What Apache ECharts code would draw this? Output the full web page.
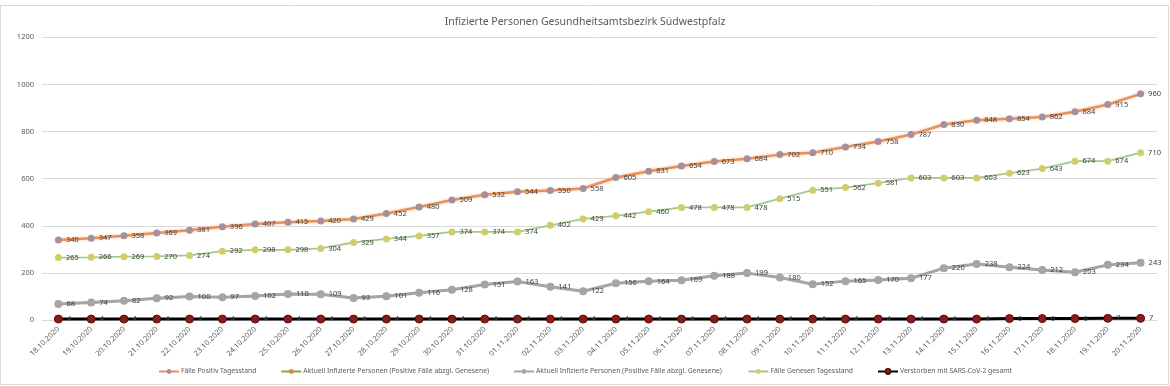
<!DOCTYPE html>
<html><head><meta charset="utf-8">
<script src="https://cdn.jsdelivr.net/npm/echarts@6/dist/echarts.min.js"></script>
<style>html,body{margin:0;padding:0;background:#fff}#c{width:1170px;height:386px}</style>
</head><body><div id="c"></div>
<script>
const categories = ['18.10.2020','19.10.2020','20.10.2020','21.10.2020','22.10.2020','23.10.2020','24.10.2020','25.10.2020','26.10.2020','27.10.2020','28.10.2020','29.10.2020','30.10.2020','31.10.2020','01.11.2020','02.11.2020','03.11.2020','04.11.2020','05.11.2020','06.11.2020','07.11.2020','08.11.2020','09.11.2020','10.11.2020','11.11.2020','12.11.2020','13.11.2020','14.11.2020','15.11.2020','16.11.2020','17.11.2020','18.11.2020','19.11.2020','20.11.2020'];
const positiv = [340,347,358,369,381,396,407,415,420,429,452,480,509,532,544,550,558,605,631,654,673,684,702,710,734,758,787,830,848,854,862,884,915,960];
const aktuell = [68,74,82,92,100,97,102,110,109,93,101,116,128,151,163,141,122,156,164,169,188,199,180,152,165,170,177,220,238,224,212,203,234,243];
const genesen = [265,266,269,270,274,292,298,298,304,329,344,357,374,374,374,402,429,442,460,478,478,478,515,551,562,581,603,603,603,623,643,674,674,710];
const verstorben = [4,4,4,4,4,4,4,4,4,4,4,4,4,4,4,4,4,4,4,4,4,4,4,4,4,4,4,4,4,6,6,6,7,7];
const yTicks = {min:0, max:1200, interval:200};
const titleText = 'Infizierte Personen Gesundheitsamtsbezirk Südwestpfalz';
const names = ['Fälle Positiv Tagesstand','Aktuell Infizierte Personen (Positive Fälle abzgl. Genesene)','Aktuell Infizierte Personen (Positive Fälle abzgl. Genesene) ','Fälle Genesen Tagesstand','Verstorben mit SARS-CoV-2 gesamt'];

const FONT = 'Noto Sans';
const lbl = {show:true, position:'right', distance:4, fontSize:7.5, color:'#404040', fontFamily:FONT};
const chart = echarts.init(document.getElementById('c'), null, {renderer:'canvas'});
chart.setOption({
  animation:false,
  backgroundColor:'#fff',
  title:{text:titleText, left:'center', top:12, textStyle:{fontSize:10.5, fontWeight:'normal', color:'#595959', fontFamily:FONT}},
  graphic:[{type:'rect', shape:{x:0.5,y:5.5,width:1168,height:379}, style:{fill:'none', stroke:'#D9D9D9', lineWidth:1}, silent:true, z:-1}],
  grid:{left:42, right:13, top:37.3, bottom:66},
  legend:{bottom:6, left:'center', itemWidth:20, itemHeight:6, itemGap:24, textStyle:{fontSize:6.8, color:'#595959', fontFamily:FONT, padding:[0,0,0,-3]}, data:names},
  xAxis:{type:'category', data:categories, boundaryGap:true,
    axisLine:{show:true, lineStyle:{color:'#D9D9D9'}}, axisTick:{show:false},
    axisLabel:{rotate:45, fontSize:7.5, color:'#595959', margin:8, fontFamily:FONT, interval:0}},
  yAxis:{type:'value', min:yTicks.min, max:yTicks.max, interval:yTicks.interval,
    axisLine:{show:false}, axisTick:{show:false},
    axisLabel:{fontSize:7.5, color:'#595959', margin:8, fontFamily:FONT, formatter:function(v){return String(v);}},
    splitLine:{lineStyle:{color:'#D9D9D9', width:1}}},
  series:[
    {name:names[0], type:'line', data:positiv, symbol:'circle', symbolSize:7, z:5,
      lineStyle:{color:'#E8915A', width:2.5, shadowColor:'rgba(237,125,49,0.45)', shadowBlur:3},
      itemStyle:{color:'#A3909E'}, label:lbl},
    {name:names[1], type:'line', data:aktuell, symbol:'circle', symbolSize:7, z:2,
      lineStyle:{color:'#70AD47', width:2}, itemStyle:{color:'#ED7D31'}, label:{show:false}},
    {name:names[2], type:'line', data:aktuell, symbol:'circle', symbolSize:8, z:3,
      lineStyle:{color:'#A5A5A5', width:3}, itemStyle:{color:'#A5A5A5'}, label:lbl},
    {name:names[3], type:'line', data:genesen, symbol:'circle', symbolSize:7, z:4,
      lineStyle:{color:'#A4C98E', width:1.8}, itemStyle:{color:'#D2CD6B'}, label:lbl},
    {name:names[4], type:'line', data:verstorben, symbol:'circle', symbolSize:8, z:6,
      lineStyle:{color:'#000000', width:3}, itemStyle:{color:'#8B1A1A', borderColor:'#5a0e0e', borderWidth:1}, label:lbl}
  ]
});
</script></body></html>
